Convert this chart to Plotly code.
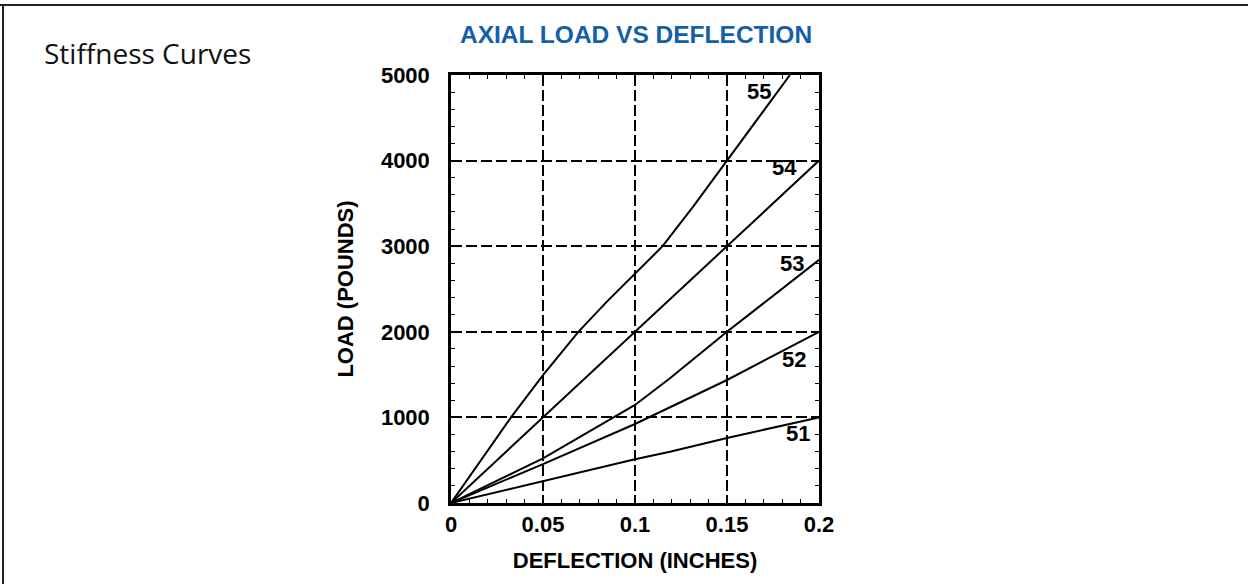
import plotly.graph_objects as go

# ---- data ----
series_names = ["51", "52", "53", "54", "55"]
defl_51 = [0, 0.05, 0.10, 0.119, 0.15, 0.20]
load_51 = [0, 257, 510, 599, 760, 1000]
defl_52 = [0, 0.05, 0.10, 0.119, 0.15, 0.20]
load_52 = [0, 455, 923, 1118, 1437, 2000]
defl_53 = [0, 0.05, 0.10, 0.119, 0.15, 0.20]
load_53 = [0, 522, 1145, 1457, 2000, 2840]
defl_54 = [0, 0.05, 0.10, 0.15, 0.20]
load_54 = [0, 1000, 2000, 3000, 4000]
defl_55 = [0, 0.0326, 0.05, 0.0692, 0.0846, 0.10, 0.115, 0.1317, 0.15, 0.1842]
load_55 = [0, 1000, 1495, 2000, 2350, 2685, 3000, 3465, 4000, 5000]

label_x = [0.1888, 0.1863, 0.1852, 0.1814, 0.1674]
label_y = [814, 1682, 2800, 3925, 4805]

x_ticks = [0, 0.05, 0.1, 0.15, 0.2]
x_tick_text = ["0", "0.05", "0.1", "0.15", "0.2"]
y_ticks = [0, 1000, 2000, 3000, 4000, 5000]
y_tick_text = ["0", "1000", "2000", "3000", "4000", "5000"]

xs = [defl_51, defl_52, defl_53, defl_54, defl_55]
ys = [load_51, load_52, load_53, load_54, load_55]

# ---- layout geometry ----
W, H = 1248, 584
L, R, T, B = 451, 819, 75, 503


def px(x):
    return (x - L) / (R - L)


def py(y):
    return (B - y) / (B - T)


fig = go.Figure()
for name, xv, yv in zip(series_names, xs, ys):
    fig.add_trace(go.Scatter(x=xv, y=yv, mode="lines", name=name,
                             line=dict(color="black", width=2),
                             showlegend=False, hoverinfo="x+y+name"))

bold = "Liberation Sans, Arial, sans-serif"

for name, lx, ly in zip(series_names, label_x, label_y):
    fig.add_annotation(x=lx, y=ly, xref="x", yref="y", text=f"<b>{name}</b>",
                       showarrow=False, font=dict(family=bold, size=22, color="black"),
                       xanchor="center", yanchor="middle")

fig.add_annotation(x=px(636), y=py(35), xref="paper", yref="paper",
                   text="<b>AXIAL LOAD VS DEFLECTION</b>", showarrow=False,
                   font=dict(family=bold, size=24.5, color="#135fab"),
                   xanchor="center", yanchor="middle")
fig.add_annotation(x=px(42), y=py(53), xref="paper", yref="paper",
                   text="Stiffness Curves", showarrow=False,
                   font=dict(family="Open Sans, sans-serif", size=28, color="#111111"),
                   xanchor="left", yanchor="middle")

# outer border (top and left edges only)
fig.add_shape(type="line", xref="paper", yref="paper",
              x0=px(0), x1=px(W), y0=py(5), y1=py(5),
              line=dict(color="#222222", width=2))
fig.add_shape(type="line", xref="paper", yref="paper",
              x0=px(3), x1=px(3), y0=py(4), y1=py(H),
              line=dict(color="#222222", width=2))

axis_common = dict(
    showline=True, linecolor="black", linewidth=2.5, mirror="ticks",
    showgrid=True, gridcolor="black", gridwidth=1.6, griddash="11px,4px",
    ticks="inside", ticklen=5, tickcolor="black", tickwidth=1.5,
    zeroline=False,
    tickfont=dict(family=bold, size=22, color="black"),
)

fig.update_xaxes(range=[0, 0.2], tickvals=x_ticks,
                 ticktext=[f"<b>{t}</b>" for t in x_tick_text],
                 minor=dict(dtick=0.01, ticks="inside", ticklen=4, tickcolor="black",
                            tickwidth=1, showgrid=False),
                 title=dict(text="<b>DEFLECTION (INCHES)</b>",
                            font=dict(family=bold, size=22, color="black"), standoff=17),
                 ticklabelstandoff=0,
                 **axis_common)
fig.update_yaxes(range=[0, 5000], tickvals=y_ticks,
                 ticktext=[f"<b>{t}</b>" for t in y_tick_text],
                 minor=dict(dtick=200, ticks="inside", ticklen=4, tickcolor="black",
                            tickwidth=1, showgrid=False),
                 title=dict(text="<b>LOAD (POUNDS)</b>",
                            font=dict(family=bold, size=22, color="black"), standoff=22),
                 ticklabelstandoff=14,
                 **axis_common)

fig.update_layout(
    width=W, height=H, autosize=False,
    margin=dict(l=L, r=W - R, t=T, b=H - B, pad=0),
    paper_bgcolor="white", plot_bgcolor="white",
    showlegend=False,
)

fig.write_html("out.html", config={"displayModeBar": False},
               post_script="document.body.style.margin='0';document.body.style.overflow='hidden';")
